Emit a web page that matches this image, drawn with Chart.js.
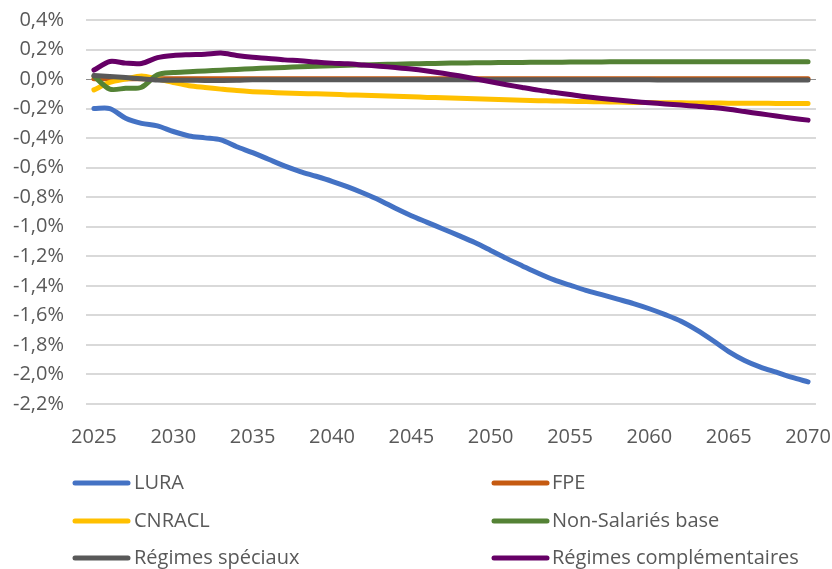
<!DOCTYPE html>
<html>
<head>
<meta charset="utf-8">
<script src="https://cdn.jsdelivr.net/npm/chart.js@4"></script>
<style>
  html, body { margin: 0; padding: 0; background: #fff; }
  #wrap { width: 832px; height: 569px; position: relative; overflow: hidden; }
  #chart { position: absolute; left: 0; top: -14px; }
</style>
</head>
<body>
<div id="wrap"><canvas id="chart" width="844" height="583"></canvas></div>
<script>
// années
const years = [2025, 2026, 2027, 2028, 2029, 2030, 2031, 2032, 2033, 2034,
  2035, 2036, 2037, 2038, 2039, 2040, 2041, 2042, 2043, 2044,
  2045, 2046, 2047, 2048, 2049, 2050, 2051, 2052, 2053, 2054,
  2055, 2056, 2057, 2058, 2059, 2060, 2061, 2062, 2063, 2064,
  2065, 2066, 2067, 2068, 2069, 2070];

// valeurs en %
const lura = [-0.20, -0.20, -0.265, -0.30, -0.317, -0.355, -0.385, -0.398, -0.412, -0.458,
  -0.498, -0.543, -0.588, -0.626, -0.658, -0.692, -0.73, -0.773, -0.82, -0.875,
  -0.925, -0.97, -1.015, -1.06, -1.107, -1.16, -1.214, -1.265, -1.315, -1.36,
  -1.395, -1.43, -1.46, -1.49, -1.52, -1.555, -1.595, -1.64, -1.70, -1.77,
  -1.845, -1.905, -1.95, -1.985, -2.02, -2.05];

const fpe = [0.003, 0.003, 0.003, 0.003, 0.003, 0.003, 0.003, 0.003, 0.003, 0.003,
  0.003, 0.003, 0.003, 0.003, 0.003, 0.003, 0.003, 0.003, 0.003, 0.003,
  0.003, 0.003, 0.003, 0.003, 0.003, 0.003, 0.003, 0.003, 0.003, 0.003,
  0.003, 0.003, 0.003, 0.003, 0.003, 0.003, 0.003, 0.003, 0.003, 0.003,
  0.003, 0.003, 0.003, 0.003, 0.003, 0.003];

const cnracl = [-0.073, -0.023, 0.0, 0.02, 0.0, -0.023, -0.045, -0.057, -0.068, -0.078,
  -0.085, -0.09, -0.094, -0.098, -0.1, -0.103, -0.107, -0.11, -0.113, -0.117,
  -0.12, -0.124, -0.127, -0.13, -0.133, -0.137, -0.14, -0.143, -0.146, -0.148,
  -0.15, -0.152, -0.154, -0.156, -0.158, -0.159, -0.16, -0.161, -0.162, -0.162,
  -0.163, -0.164, -0.164, -0.165, -0.165, -0.165];

const nonSalaries = [0.02, -0.068, -0.062, -0.055, 0.03, 0.045, 0.05, 0.055, 0.06, 0.065,
  0.07, 0.075, 0.079, 0.083, 0.087, 0.09, 0.093, 0.096, 0.099, 0.101,
  0.103, 0.105, 0.107, 0.109, 0.11, 0.111, 0.112, 0.113, 0.114, 0.114,
  0.115, 0.116, 0.116, 0.117, 0.117, 0.118, 0.118, 0.118, 0.118, 0.118,
  0.118, 0.117, 0.117, 0.117, 0.117, 0.117];

const speciaux = [0.025, 0.018, 0.01, 0.002, -0.006, -0.008, -0.008, -0.009, -0.009, -0.008,
  -0.004, -0.004, -0.004, -0.004, -0.004, -0.004, -0.005, -0.005, -0.005, -0.005,
  -0.005, -0.005, -0.005, -0.005, -0.005, -0.005, -0.005, -0.005, -0.005, -0.005,
  -0.005, -0.005, -0.005, -0.005, -0.005, -0.005, -0.006, -0.006, -0.006, -0.006,
  -0.006, -0.006, -0.006, -0.006, -0.006, -0.006];

const complementaires = [0.061, 0.119, 0.108, 0.106, 0.145, 0.16, 0.165, 0.168, 0.176, 0.16,
  0.148, 0.14, 0.13, 0.124, 0.115, 0.108, 0.103, 0.095, 0.087, 0.078,
  0.068, 0.055, 0.04, 0.022, 0.002, -0.018, -0.038, -0.057, -0.075, -0.09,
  -0.105, -0.12, -0.132, -0.142, -0.152, -0.16, -0.168, -0.176, -0.184, -0.193,
  -0.205, -0.22, -0.235, -0.25, -0.265, -0.278];

const seriesNames = ['LURA', 'FPE', 'CNRACL', 'Non-Salariés base', 'Régimes spéciaux', 'Régimes complémentaires'];
const seriesData = [lura, fpe, cnracl, nonSalaries, speciaux, complementaires];
const colors = ['#4472C4', '#C55A11', '#FFC000', '#548235', '#595959', '#660066'];

const FONT = "'Open Sans', sans-serif";
const TEXT = '#595959';

// légende sur deux colonnes comme dans Excel (canvas décalé de 14px vers le haut)
const legendPlugin = {
    id: 'excelLegend',
    afterDraw(chart) {
        const ctx = chart.ctx;
        const cols = [{ line: 73, text: 134 }, { line: 492, text: 552 }];
        const rows = [497, 535, 572];
        ctx.save();
        ctx.font = '20px ' + FONT;
        ctx.textBaseline = 'middle';
        ctx.lineCap = 'round';
        ctx.lineWidth = 5;
        chart.data.datasets.forEach((ds, i) => {
            const c = cols[i % 2];
            const y = rows[Math.floor(i / 2)];
            ctx.strokeStyle = ds.borderColor;
            ctx.beginPath();
            ctx.moveTo(c.line + 2, y);
            ctx.lineTo(c.line + 55, y);
            ctx.stroke();
            ctx.fillStyle = TEXT;
            ctx.fillText(ds.label, c.text, y);
        });
        ctx.restore();
    }
};

const datasets = seriesNames.map((name, i) => ({
    label: name,
    data: seriesData[i],
    borderColor: colors[i],
    backgroundColor: colors[i],
    borderWidth: 5,
    borderCapStyle: 'round',
    borderJoinStyle: 'round',
    pointRadius: 0,
    tension: 0.3,
    fill: false,
    order: seriesNames.length - i // la dernière série passe au-dessus
}));

new Chart(document.getElementById('chart'), {
    type: 'line',
    data: { labels: years, datasets: datasets },
    options: {
        responsive: false,
        animation: false,
        layout: { padding: { left: 0, right: 8, top: 0, bottom: 107 } },
        plugins: {
            legend: { display: false },
            tooltip: { enabled: false }
        },
        scales: {
            x: {
                offset: true,
                grid: { display: false },
                border: { display: false },
                ticks: {
                    autoSkip: false,
                    maxRotation: 0,
                    padding: 13,
                    color: TEXT,
                    font: { family: FONT, size: 20 },
                    callback: function (val, idx) {
                        const y = years[idx];
                        return (y % 5 === 0) ? String(y) : '';
                    }
                }
            },
            y: {
                min: -2.2,
                max: 0.4,
                border: { display: false },
                afterFit: (s) => { s.width = 86; },
                grid: {
                    drawTicks: false,
                    lineWidth: 2,
                    color: (c) => (Math.abs(c.tick.value) < 1e-9 ? 'rgba(0,0,0,0)' : '#d9d9d9')
                },
                ticks: {
                    stepSize: 0.2,
                    padding: 22,
                    color: TEXT,
                    font: { family: FONT, size: 20 },
                    callback: function (v) {
                        const r = Math.round(v * 10) / 10;
                        return (Math.abs(r) < 1e-9 ? '0,0' : r.toFixed(1).replace('.', ',')) + '%';
                    }
                }
            }
        }
    },
    plugins: [{
        // axe horizontal à 0 sous les courbes
        id: 'zeroAxis',
        beforeDatasetsDraw(chart) {
            const { ctx, chartArea } = chart;
            const y0 = Math.round(chart.scales.y.getPixelForValue(0)) + 0.5;
            ctx.save();
            ctx.strokeStyle = '#8c8c8c';
            ctx.lineWidth = 1;
            ctx.beginPath();
            ctx.moveTo(chartArea.left, y0);
            ctx.lineTo(chartArea.right, y0);
            ctx.stroke();
            ctx.restore();
        }
    }, legendPlugin]
});
</script>
</body>
</html>
